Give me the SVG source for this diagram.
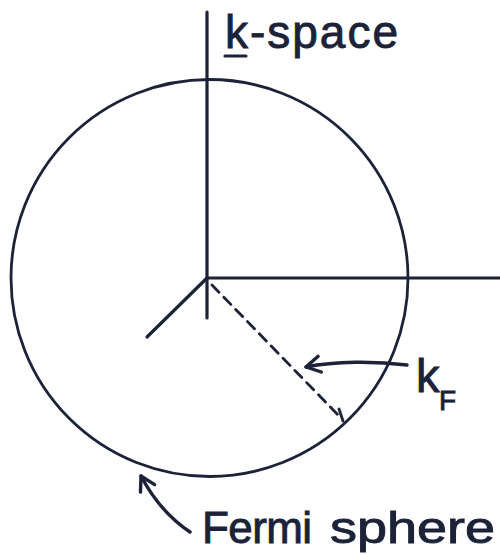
<svg xmlns="http://www.w3.org/2000/svg" width="500" height="554" viewBox="0 0 500 554">
<style>
.ln{fill:none;stroke:#1c2238;stroke-linecap:round;stroke-linejoin:round}
.lbl{font-family:"Liberation Sans",Arial,sans-serif;fill:#1c2238;stroke:#1c2238;stroke-width:0.9}
</style>
<defs>
<marker id="ah" markerUnits="userSpaceOnUse" markerWidth="20" markerHeight="20" refX="0" refY="0" orient="auto" overflow="visible">
<path d="M -14 -8 L 0 0 L -14 8" fill="none" stroke="#1c2238" stroke-width="3.4" stroke-linecap="round" stroke-linejoin="round"/>
</marker>
</defs>
<rect width="500" height="554" fill="#ffffff"/>
<g id="sphere">
<circle class="ln" cx="209.5" cy="278" r="198.5" stroke-width="2.8"/>
</g>
<g id="axes">
<line class="ln" x1="207" y1="12" x2="207" y2="318" stroke-width="3.2"/>
<line class="ln" x1="207" y1="278" x2="500" y2="278" stroke-width="3.2"/>
<line class="ln" x1="207" y1="278" x2="147" y2="337" stroke-width="3.2"/>
</g>
<g id="radius">
<line class="ln" x1="212" y1="285" x2="342" y2="419" stroke-width="2.8" stroke-dasharray="10 7" stroke-linecap="butt"/>
<line class="ln" x1="339" y1="409" x2="343" y2="421" stroke-width="2.8"/>
</g>
<g id="connectors">
<path class="ln" d="M 407 365 C 375 361 335 361 306 367" stroke-width="3.4" marker-end="url(#ah)"/>
<path class="ln" d="M 190 532 Q 160 512 141 476" stroke-width="3.4" marker-end="url(#ah)"/>
</g>
<g id="label-kspace">
<text class="lbl" x="225" y="48" font-size="46" textLength="173" lengthAdjust="spacing">k-space</text>
<line class="ln" x1="225" y1="56" x2="246" y2="56" stroke-width="3.2"/>
</g>
<g id="label-kF">
<text class="lbl" x="416" y="392" font-size="47">k</text>
<text class="lbl" x="439" y="410" font-size="28">F</text>
</g>
<g id="label-fermi">
<text class="lbl" x="202" y="543" font-size="44" textLength="110" lengthAdjust="spacing">Fermi</text>
<text class="lbl" x="330" y="543" font-size="44" textLength="165" lengthAdjust="spacingAndGlyphs">sphere</text>
</g>
</svg>
